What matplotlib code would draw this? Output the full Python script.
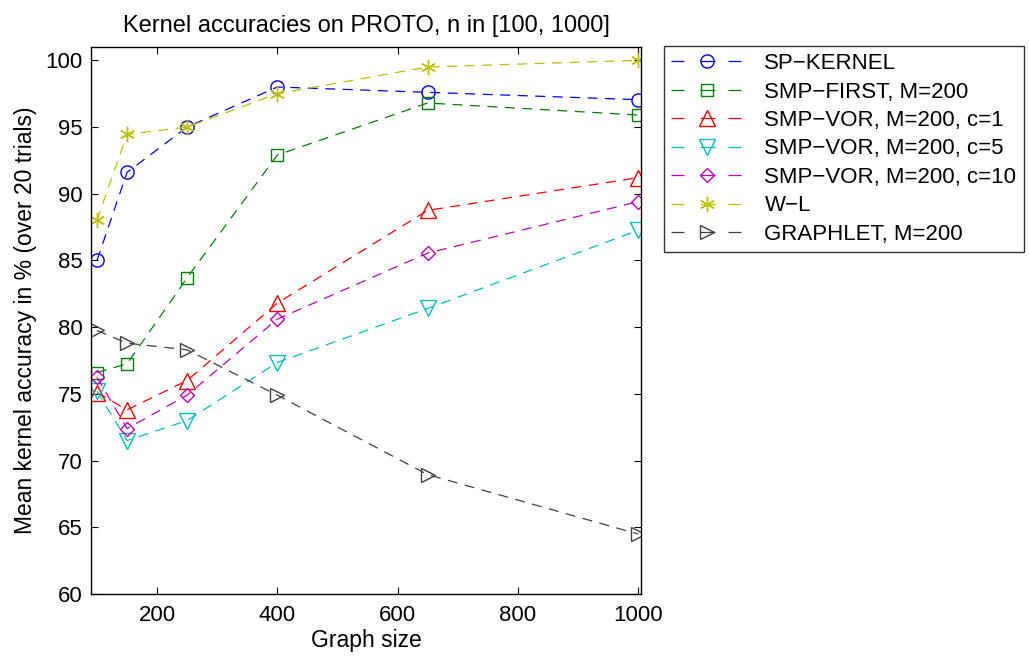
import matplotlib
matplotlib.use("Agg")
import matplotlib.pyplot as plt

plt.rcParams['font.family'] = ['Liberation Sans', 'DejaVu Sans']

# graph sizes and mean accuracies (%)
sizes = [100, 150, 250, 400, 650, 1000]
sp_kernel = [85.0, 91.6, 95.0, 98.0, 97.6, 97.05]
smp_first = [76.6, 77.25, 83.7, 92.9, 96.8, 95.9]
smp_vor_c1 = [75.1, 73.8, 76.0, 81.8, 88.75, 91.2]
smp_vor_c5 = [75.2, 71.5, 73.0, 77.35, 81.4, 87.25]
smp_vor_c10 = [76.25, 72.4, 74.9, 80.6, 85.55, 89.4]
wl = [88.0, 94.45, 95.0, 97.5, 99.5, 100.0]
graphlet = [79.75, 78.8, 78.3, 74.9, 68.95, 64.5]

series = [
    ("SP\u2212KERNEL", sp_kernel, (0, 0, 1), 'o', 9.5),
    ("SMP\u2212FIRST, M=200", smp_first, (0, 0.5, 0), 's', 8.5),
    ("SMP\u2212VOR, M=200, c=1", smp_vor_c1, (1, 0, 0), '^', 11),
    ("SMP\u2212VOR, M=200, c=5", smp_vor_c5, (0, 0.75, 0.75), 'v', 11),
    ("SMP\u2212VOR, M=200, c=10", smp_vor_c10, (0.75, 0, 0.75), 'D', 7.5),
    ("W\u2212L", wl, (0.75, 0.75, 0), '*', 11),
    ("GRAPHLET, M=200", graphlet, (0.25, 0.25, 0.25), '>', 10.5),
]

fig = plt.figure(figsize=(10.29, 6.58), dpi=100)
ax = fig.add_axes([0.0884, 0.0973, 0.5345, 0.8313])

for name, vals, col, mk, ms in series:
    if mk == '*':
        ax.plot(sizes, vals, color=col, linestyle=(0, (8, 6)), linewidth=0.9,
                marker=(6, 2, 0), markersize=ms, markeredgewidth=1.0, label=name)
    else:
        ax.plot(sizes, vals, color=col, linestyle=(0, (8, 6)), linewidth=0.9,
                marker=mk, markersize=ms, markerfacecolor='none',
                markeredgewidth=1.0, label=name)

ax.set_xlim(90, 1005)
ax.set_ylim(60, 101)
ax.set_xticks([200, 400, 600, 800, 1000])
ax.set_yticks(range(60, 101, 5))
ax.tick_params(direction='in', top=True, right=True, labelsize=16, length=5,
               width=0.8)
ax.tick_params(axis='x', pad=8)
ax.tick_params(axis='y', pad=6)
for sp in ax.spines.values():
    sp.set_linewidth(1.0)

ax.set_xlabel("Graph size", fontsize=16.5, labelpad=2)
ax.set_ylabel("Mean kernel accuracy in % (over 20 trials)", fontsize=16.5, labelpad=6)
ax.set_title("Kernel accuracies on PROTO, n in [100, 1000]", fontsize=17, pad=11)

leg = fig.legend(loc='upper left', bbox_to_anchor=(664 / 1029, 1 - 46 / 658),
                 fontsize=16, frameon=True, fancybox=False, handlelength=3.2,
                 borderaxespad=0, borderpad=0.32, labelspacing=0.335,
                 handletextpad=1.0)
leg.get_frame().set_edgecolor('black')
leg.get_frame().set_linewidth(1.0)
# legend samples: dash, marker with a stroke through it, dash
for ln in leg.get_lines():
    ln.set_linestyle((0, (10.4, 12.8, 12, 10.4, 10.4, 50)))

fig.savefig("out.png", dpi=100)
